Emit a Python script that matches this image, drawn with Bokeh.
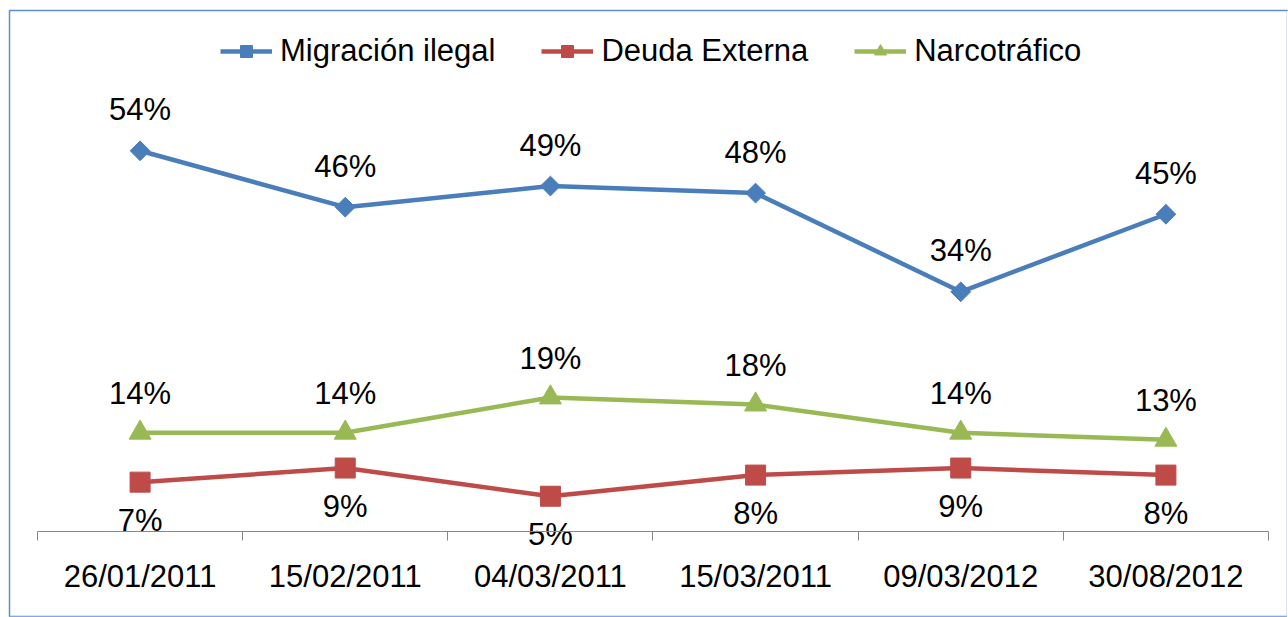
import numpy as np
from bokeh.plotting import figure
from bokeh.models import Range1d, FixedTicker, Legend, LegendItem, ColumnDataSource, BoxAnnotation
from bokeh.core.properties import value
from bokeh.embed import file_html
from bokeh.resources import INLINE

categories = ["26/01/2011", "15/02/2011", "04/03/2011", "15/03/2011", "09/03/2012", "30/08/2012"]
migracion = [54, 46, 49, 48, 34, 45]
deuda = [7, 9, 5, 8, 9, 8]
narco = [14, 14, 19, 18, 14, 13]
series_names = ["Migración ilegal", "Deuda Externa", "Narcotráfico"]

FONT = "Liberation Sans"
FS = "31px"
BLUE, RED, GREEN = "#4A7EBB", "#BE4B48", "#98B954"
FRAME_BLUE = "#5B8ED2"

n = len(categories)
xs = [i + 0.5 for i in range(n)]
X_END = n + 0.0975
Y_START = -12.2

p = figure(width=1288, height=617, output_backend="svg", toolbar_location=None,
           x_range=Range1d(-0.13647, X_END), y_range=Range1d(Y_START, 73.90),
           y_axis_location=None, min_border_left=9, min_border_right=0,
           min_border_top=10, min_border_bottom=0)
p.grid.visible = False
p.outline_line_color = FRAME_BLUE
p.outline_line_width = 1.5
p.background_fill_color = "white"
p.border_fill_color = "white"

src = ColumnDataSource(dict(x=xs, m=migracion, d=deuda, n=narco,
                            ml=[f"{v}%" for v in migracion],
                            dl=[f"{v}%" for v in deuda],
                            nl=[f"{v}%" for v in narco]))

lm = p.line("x", "m", source=src, line_color=BLUE, line_width=4.5)
sm = p.scatter("x", "m", source=src, marker="square", angle=np.pi / 4, size=14,
               fill_color=BLUE, line_color=BLUE)
ld = p.line("x", "d", source=src, line_color=RED, line_width=4.5)
sd = p.scatter("x", "d", source=src, marker="square", size=20,
               fill_color=RED, line_color=RED)
ln = p.line("x", "n", source=src, line_color=GREEN, line_width=4.5)
sn = p.scatter("x", "n", source=src, marker="triangle", size=22,
               fill_color=GREEN, line_color=GREEN)

common = dict(text_font=value(FONT), text_font_size=FS, text_color="#000000",
              text_align="center", text_baseline="middle", source=src)
p.text("x", "m", text="ml", y_offset=-41, **common)
p.text("x", "n", text="nl", y_offset=-39, **common)
p.text("x", "d", text="dl", y_offset=38, **common)

legend = Legend(items=[LegendItem(label=series_names[0], renderers=[lm, sm]),
                       LegendItem(label=series_names[1], renderers=[ld, sd]),
                       LegendItem(label=series_names[2], renderers=[ln, sn])],
                orientation="horizontal", location=(211, 548), margin=0, padding=0,
                spacing=46, label_standoff=8, glyph_width=52, glyph_height=30,
                label_height=30, label_text_font=FONT, label_text_font_size=FS,
                label_text_color="#000000", border_line_color=None,
                background_fill_alpha=0)
p.add_layout(legend, "center")

ax = p.xaxis[0]
ax.fixed_location = 0
ax.bounds = (0, n)
ax.ticker = FixedTicker(ticks=xs, minor_ticks=list(range(n + 1)))
ax.major_label_overrides = {x: c for x, c in zip(xs, categories)}
ax.major_tick_out = 0
ax.major_tick_in = 0
ax.minor_tick_out = 9
ax.minor_tick_in = 0
ax.minor_tick_line_color = "#888888"
ax.axis_line_color = "#888888"
ax.axis_line_width = 1
ax.major_label_text_font = FONT
ax.major_label_text_font_size = FS
ax.major_label_text_color = "#000000"
ax.major_label_standoff = 19

# hide the right and bottom edges of the outline (the reference frame continues off-page)
p.add_layout(BoxAnnotation(left=X_END - 0.008, fill_color="white", fill_alpha=1,
                           line_color=None, level="overlay"))
p.add_layout(BoxAnnotation(top=Y_START + 0.1, fill_color="white", fill_alpha=1,
                           line_color=None, level="overlay"))

open("out.html", "w").write(file_html(p, INLINE))
